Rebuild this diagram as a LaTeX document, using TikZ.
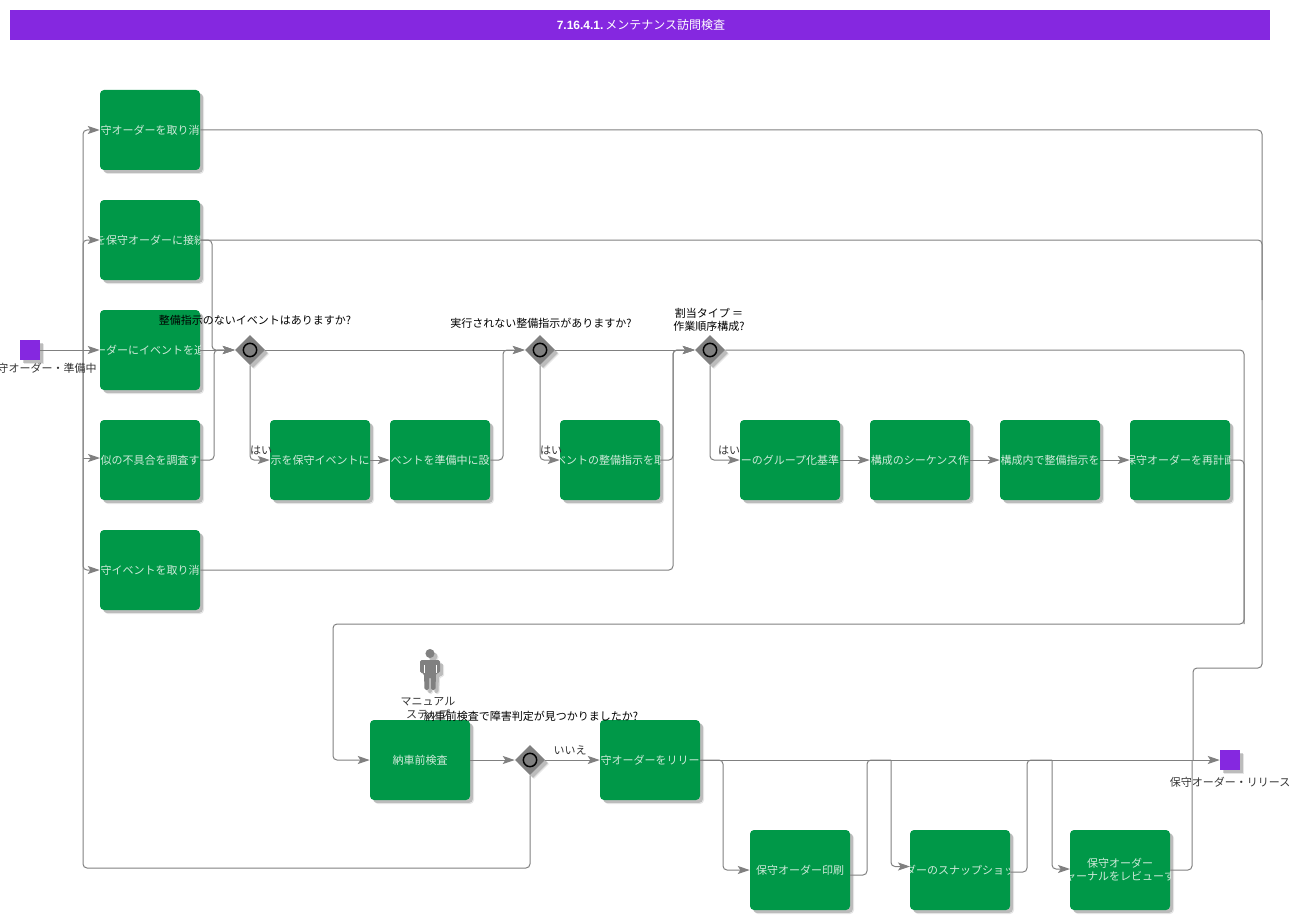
\documentclass[tikz,border=0pt]{standalone}
\usepackage{fontspec}
\setmainfont{Noto Sans CJK JP}
\newfontfamily\latinb{Liberation Sans}[BoldFont={Liberation Sans Bold}]
\usetikzlibrary{arrows.meta,shadows,calc,shapes.geometric}
\definecolor{bargreen}{HTML}{009848}
\definecolor{barpurple}{HTML}{8528E0}
\definecolor{linegray}{HTML}{808080}
\definecolor{gategray}{HTML}{808080}
\definecolor{labelgray}{HTML}{333333}
\definecolor{tasktext}{HTML}{D0EADA}
\tikzset{
  x=0.75pt,y=-0.75pt,
  softshadow/.style={
    general shadow={shadow xshift=3pt,shadow yshift=-3pt,fill=black,opacity=.10},
    general shadow={shadow xshift=2.2pt,shadow yshift=-2.2pt,fill=black,opacity=.18}},
  taskbox/.style={draw=none,fill=bargreen,rounded corners=3pt,minimum width=75pt,minimum height=60pt,inner sep=0pt,softshadow,
     path picture={\node[text=tasktext,font=\fontsize{8.25pt}{10pt}\selectfont,align=center,inner sep=0pt] at (path picture bounding box.center) {#1};}},
  evt/.style={draw=none,fill=barpurple,minimum size=15pt,inner sep=0pt,softshadow},
  gate/.style={draw=none,fill=gategray,minimum size=22.5pt,inner sep=0pt,softshadow,shape=diamond},
  ring/.style={draw=black,fill=gategray,circle,line width=1.1pt,minimum size=10pt,inner sep=0pt},
  flow/.style={draw=linegray,line width=.75pt,rounded corners=3pt,-{Stealth[length=9pt,width=6pt,inset=2pt]}},
  plain/.style={draw=linegray,line width=.75pt,rounded corners=3pt},
  lbl/.style={text=labelgray,font=\fontsize{8.25pt}{10pt}\selectfont,align=center,inner sep=0pt},
  qlbl/.style={text=black,font=\fontsize{8.25pt}{10pt}\selectfont,align=center,inner sep=0pt},
}
\begin{document}
\begin{tikzpicture}
\useasboundingbox (0,0) rectangle (1302,920);
\node[fill=barpurple,minimum width=945pt,minimum height=22.5pt,inner sep=0pt,anchor=center,text=white,font=\fontsize{9pt}{11pt}\selectfont] (title) at (640,25) {\hspace{1.5pt}{\latinb\bfseries 7.16.4.1.}\,メンテナンス訪問検査};
% tasks
\node[taskbox={守オーダーを取り消}] (a1) at (150,130) {};
\node[taskbox={を保守オーダーに接続}] (a2) at (150,240) {};
\node[taskbox={ーダーにイベントを追}] (a3) at (150,350) {};
\node[taskbox={似の不具合を調査す}] (a4) at (150,460) {};
\node[taskbox={守イベントを取り消}] (a5) at (150,570) {};
\node[taskbox={示を保守イベントに}] (b1) at (320,460) {};
\node[taskbox={ベントを準備中に設}] (b2) at (440,460) {};
\node[taskbox={ベントの整備指示を取}] (b3) at (610,460) {};
\node[taskbox={ーのグループ化基準}] (c1) at (790,460) {};
\node[taskbox={構成のシーケンス作}] (c2) at (920,460) {};
\node[taskbox={構成内で整備指示を}] (c3) at (1050,460) {};
\node[taskbox={保守オーダーを再計画}] (c4) at (1180,460) {};
\node[taskbox={納車前検査}] (d) at (420,760) {};
\node[taskbox={守オーダーをリリー}] (e) at (650,760) {};
\node[taskbox={保守オーダー印刷}] (f) at (800,870) {};
\node[taskbox={ダーのスナップショッ}] (g) at (960,870) {};
\node[taskbox={保守オーダー\\ャーナルをレビューす}] (h) at (1120,870) {};
% events
\node[evt] (st) at (30,350) {};
\node[evt] (en) at (1230,760) {};
% gateways
\foreach \n/\x/\y in {g1/250/350,g2/540/350,g3/710/350,g4/530/760}{
  \node[gate] (\n) at (\x,\y) {};
  \node[ring] (\n r) at (\x,\y) {};
}
\coordinate (s) at (83,350);
\coordinate (a4in) at (100,458);
\coordinate (a4j) at (83,458);
\coordinate (fout) at (850,875);
\coordinate (fj) at (891,760);
\coordinate (gin) at (910,866.5);
\coordinate (gout) at (1010,872);
\coordinate (gj) at (1052,760);
\coordinate (hin) at (1070,869);
\coordinate (rj) at (1193,668);
\coordinate (cj) at (1244,624);
% connectors
\draw[flow] (st) -- (a3);
\draw[flow] (s) -- (83,130) -- (a1.west);
\draw[flow] (s) -- (83,240) -- (a2.west);
\draw[flow] (a4j) -- (a4in);
\draw[flow] (s) -- (83,570) -- (a5.west);
\draw[plain] (g4.south) -- (530,868) -- (83,868) -- (s);
\draw[plain] (a1.east) -- (1262,130) -- (1262,300);
\draw[plain] (a2.east) -- (1262,240) -- (1262,668) -- (rj) -- (1193,760);
\draw[flow] (a2.east) -- (212,240) -- (212,350) -- (g1.west);
\draw[flow] (a3) -- (g1);
\draw[flow] (a4.east) -- (214,460) -- (214,350) -- (g1.west);
\draw[flow] (g1) -- (g2);
\draw[flow] (g1.south) -- (250,460) -- (b1.west);
\draw[flow] (b1) -- (b2);
\draw[flow] (b2.east) -- (503,460) -- (503,350) -- (g2.west);
\draw[flow] (g2) -- (g3);
\draw[flow] (g2.south) -- (540,460) -- (b3.west);
\draw[flow] (b3.east) -- (673,460) -- (673,350) -- (g3.west);
\draw[flow] (a5.east) -- (673,570) -- (673,350) -- (g3.west);
\draw[flow] (g3.east) -- (1244,350) -- (cj) -- (333,624) -- (333,760) -- (d.west);
\draw[flow] (g3.south) -- (710,460) -- (c1.west);
\draw[flow] (c1) -- (c2);
\draw[flow] (c2) -- (c3);
\draw[flow] (c3) -- (c4);
\draw[plain] (c4.east) -- (1244,460) -- (cj);
\draw[flow] (d) -- (g4);
\draw[flow] (g4) -- (e);
\draw[flow] (e) -- (en);
\draw[flow] (e.east) -- (723,760) -- (723,870) -- (f.west);
\draw[plain] (fout) -- (867,875) -- (867,760) -- (fj);
\draw[flow] (fj) -- (891,866.5) -- (gin);
\draw[plain] (gout) -- (1027,872) -- (1027,760) -- (gj);
\draw[flow] (gj) -- (1052,869) -- (hin);
\draw[plain] (h.east) -- (1192,870) -- (1192,760);
% labels
\node[lbl] (l1) at (47,368) {守オーダー・準備中};
\node[lbl] (l2) at (1230,782) {保守オーダー・リリース};
\node[qlbl] (q1) at (255,320) {整備指示のないイベントはありますか?};
\node[qlbl] (q2) at (541,323) {実行されない整備指示がありますか?};
\node[qlbl] (q3) at (709,320) {割当タイプ ＝\\作業順序構成?};
\node[qlbl] (q4) at (531,716) {納車前検査で障害判定が見つかりましたか?};
\node[lbl] (y1) at (261,450) {はい};
\node[lbl] (y2) at (551,450) {はい};
\node[lbl] (y3) at (729,450) {はい};
\node[lbl] (n1) at (570,750) {いいえ};
\node[lbl] (m) at (428,708) {マニュアル\\ステップ};
% person
\fill[linegray,softshadow] (430,653.5) circle (3.4pt);
\fill[linegray,rounded corners=1.2pt,softshadow] (420,660) -- (440,660) -- (440,673) -- (436,673) -- (435.5,690) -- (431,690) -- (431,677) -- (429,677) -- (429,690) -- (424.5,690) -- (424,673) -- (420,673) -- cycle;
\draw[white,line width=.5pt] (424,665) -- (424,673) (436,665) -- (436,673);
\end{tikzpicture}
\end{document}
